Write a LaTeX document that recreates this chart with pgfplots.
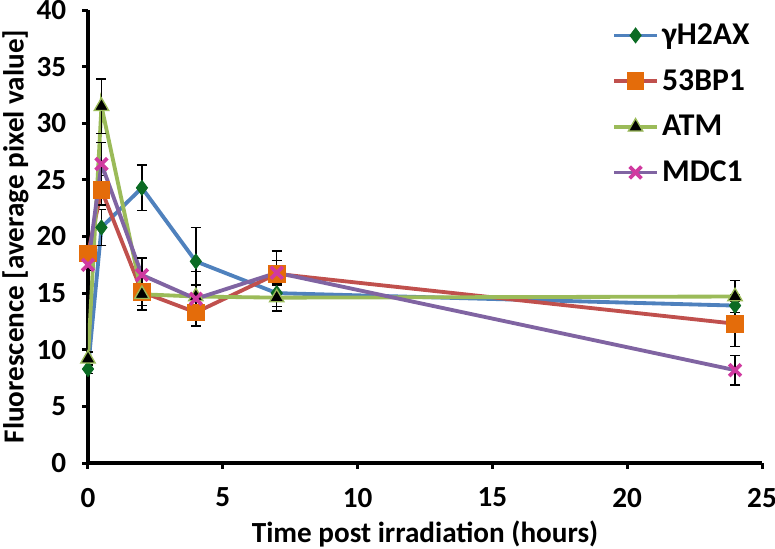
\documentclass[border=0pt]{standalone}
\usepackage{fontspec}
\setmainfont{Carlito}
\usepackage{pgfplots}
\usepackage{pgfplotstable}
\usetikzlibrary{calc}
\pgfplotsset{compat=1.18}
\definecolor{cblue}{HTML}{4F81BD}
\definecolor{cred}{HTML}{C0504D}
\definecolor{cgreen}{HTML}{9BBB59}
\definecolor{cpurple}{HTML}{8064A2}
\definecolor{dgreen}{HTML}{0B6B23}
\definecolor{corange}{HTML}{E46C0A}
\definecolor{cmag}{HTML}{D03AA0}

\pgfplotstableread{
x y e
0 8.3 0.4
0.5 20.8 1.6
2 24.3 2.0
4 17.8 3.0
7 15.0 1.2
24 13.9 1.0
}\tH
\pgfplotstableread{
x y e
0 18.5 0.5
0.5 24.1 1.3
2 15.1 1.2
4 13.3 0.6
7 16.7 2.0
24 12.3 2.0
}\tB
\pgfplotstableread{
x y e
0 9.2 0.6
0.5 31.5 2.4
2 14.9 1.4
4 14.7 1.0
7 14.6 1.2
24 14.7 1.4
}\tA
\pgfplotstableread{
x y e
0 17.5 0.5
0.5 26.4 1.9
2 16.6 1.5
4 14.5 2.4
7 16.8 1.1
24 8.2 1.3
}\tM

\begin{document}
\begin{tikzpicture}
\begin{axis}[
  scale only axis, width=404.4pt, height=271.8pt,
  xmin=0, xmax=25, ymin=0, ymax=40,
  xtick={0,5,...,25}, ytick={0,5,...,40},
  axis x line*=bottom, axis y line*=left,
  axis line style={line width=2.2pt, black},
  tick style={line width=1.8pt, black},
  major tick length=3.5pt, tick align=outside,
  /pgf/number format/assume math mode=true,
  ticklabel style={font=\fontsize{17.5}{20}\selectfont\bfseries},
  xticklabel style={yshift=-8pt},
  yticklabel style={xshift=-6pt},
  label style={font=\fontsize{17.5}{20}\selectfont\bfseries},
  xlabel={Time post irradiation (hours)},
  ylabel={Fluorescence [average pixel value]},
  xlabel style={yshift=-1pt},
  ylabel style={yshift=-2pt},
  legend style={draw=none, fill=none, at={(0.77,0.985)}, anchor=north west,
    font=\fontsize{19}{21}\selectfont\bfseries, row sep=9.5pt,
    /tikz/every even column/.append style={column sep=2pt}},
  legend cell align=left,
  legend image code/.code={
    \draw[#1, mark=none] (0cm,0cm) -- (0.9cm,0cm);
    \draw[#1, only marks] plot coordinates {(0.45cm,0cm)};
  },
  every axis plot/.append style={line width=2.3pt},
  error bars/y dir=both, error bars/y explicit,
  error bars/error bar style={black, line width=0.9pt},
  error bars/error mark options={rotate=90, mark size=3pt, black, line width=0.9pt},
]
\addplot[cblue, mark=diamond*, mark size=4.5pt, mark options={fill=dgreen, draw=dgreen, line width=0.5pt}]
  table[x=x, y=y, y error=e]{\tH};
\addlegendentry{γH2AX}
\addplot[cred, mark=square*, mark size=5pt, mark options={fill=corange, draw=corange, line width=0.5pt}]
  table[x=x, y=y, y error=e]{\tB};
\addlegendentry{53BP1}
\addplot[cgreen, mark=triangle*, mark size=5pt, mark options={fill=black, draw=cgreen, line width=0.8pt}]
  table[x=x, y=y, y error=e]{\tA};
\addlegendentry{ATM}
\addplot[cpurple, mark=x, mark size=5pt, mark options={draw=cmag, line width=2.2pt}]
  table[x=x, y=y, y error=e]{\tM};
\addlegendentry{MDC1}
\coordinate (sw) at (rel axis cs:0,0);
\coordinate (ne) at (rel axis cs:1,1);
\end{axis}
\pgfresetboundingbox
\useasboundingbox ($(sw)+(-52.8pt,-51pt)$) rectangle ($(ne)+(7.8pt,6pt)$);
\end{tikzpicture}
\end{document}
